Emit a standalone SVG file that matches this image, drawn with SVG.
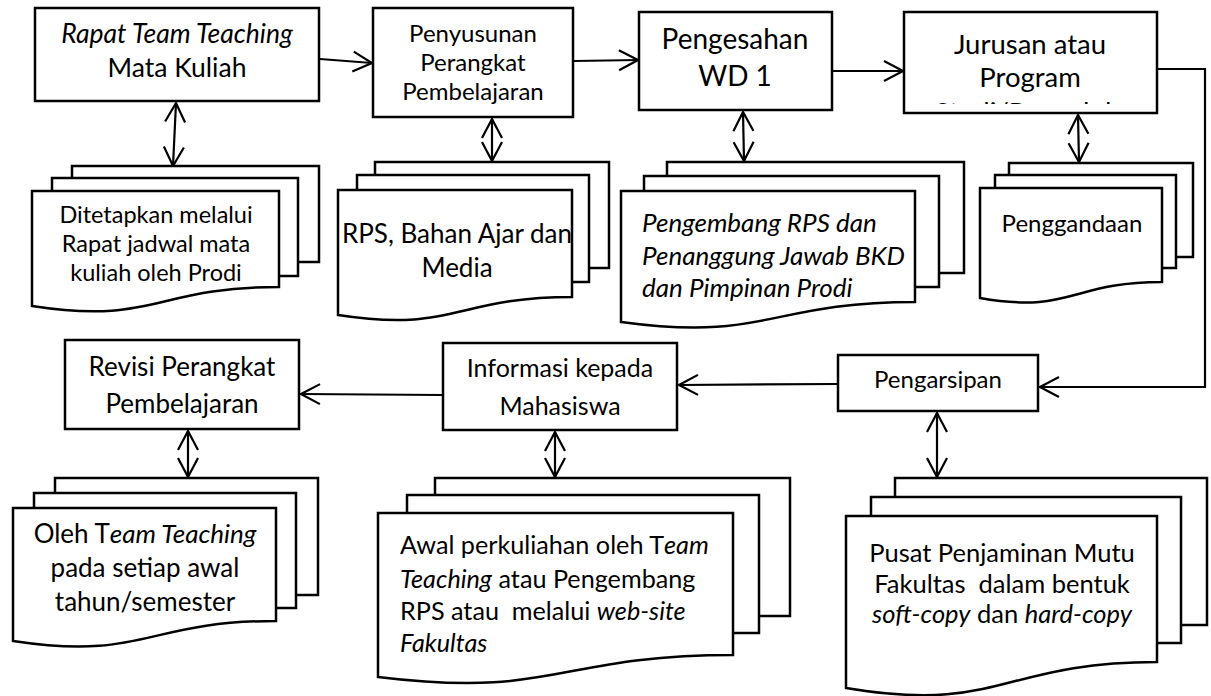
<svg xmlns="http://www.w3.org/2000/svg" width="1211" height="696" viewBox="0 0 1211 696">
  <style>
    .box { fill: #fff; stroke: #000; stroke-width: 2.5; }
    .sheet { fill: #fff; stroke: #000; stroke-width: 2.5; stroke-linejoin: miter; }
    .ln { fill: none; stroke: #000; stroke-width: 2.2; }
    text { font-family: Lato, "Liberation Sans", sans-serif; fill: #000; }
    .c { text-anchor: middle; }
    .i { font-style: italic; }
  </style>
  <defs>
    <marker id="ah" viewBox="-22 -12 24 24" refX="0" refY="0" markerWidth="24" markerHeight="24" markerUnits="userSpaceOnUse" orient="auto-start-reverse">
      <path d="M-19,-10 L0,0 L-19,10" fill="none" stroke="#000" stroke-width="2.2"/>
    </marker>
    <clipPath id="clip-jurusan">
      <rect x="906" y="14" width="249" height="90"/>
    </clipPath>
  </defs>

  <!-- connectors -->
  <g id="connectors">
    <path class="ln" d="M320,59 L372,63" marker-end="url(#ah)"/>
    <path class="ln" d="M574,61 L638,60" marker-end="url(#ah)"/>
    <path class="ln" d="M833,71 L903,71" marker-end="url(#ah)"/>
    <path class="ln" d="M1158,69 H1205 V387 H1040" marker-end="url(#ah)"/>
    <path class="ln" d="M837,384 L679,385" marker-end="url(#ah)"/>
    <path class="ln" d="M442,395 L301,394" marker-end="url(#ah)"/>
    <path class="ln" d="M176,103 L173,166" marker-start="url(#ah)" marker-end="url(#ah)"/>
    <path class="ln" d="M492,119 L492,161" marker-start="url(#ah)" marker-end="url(#ah)"/>
    <path class="ln" d="M743,112 L744,161" marker-start="url(#ah)" marker-end="url(#ah)"/>
    <path class="ln" d="M1078,115 L1079,162" marker-start="url(#ah)" marker-end="url(#ah)"/>
    <path class="ln" d="M188,431 L188,477" marker-start="url(#ah)" marker-end="url(#ah)"/>
    <path class="ln" d="M555,432 L555,477" marker-start="url(#ah)" marker-end="url(#ah)"/>
    <path class="ln" d="M937,413 L937,477" marker-start="url(#ah)" marker-end="url(#ah)"/>
  </g>

  <!-- process boxes -->
  <g id="rapat">
    <rect class="box" x="35" y="8" width="284" height="93"/>
    <text class="c i" x="177" y="43" font-size="26.5">Rapat Team Teaching</text>
    <text class="c" x="177" y="77" font-size="26.5">Mata Kuliah</text>
  </g>
  <g id="penyusunan">
    <rect class="box" x="373" y="8" width="200" height="109"/>
    <text class="c" x="473" y="42" font-size="24">Penyusunan</text>
    <text class="c" x="473" y="71" font-size="24">Perangkat</text>
    <text class="c" x="473" y="100" font-size="24">Pembelajaran</text>
  </g>
  <g id="pengesahan">
    <rect class="box" x="639" y="12" width="193" height="98"/>
    <text class="c" x="735" y="49" font-size="28">Pengesahan</text>
    <text class="c" x="735" y="86" font-size="28">WD 1</text>
  </g>
  <g id="jurusan">
    <rect class="box" x="904" y="12" width="253" height="101"/>
    <text class="c" x="1030" y="54" font-size="27.5">Jurusan atau</text>
    <text class="c" x="1030" y="87" font-size="27.5">Program</text>
    <text class="c" x="1030" y="122" font-size="27.5" clip-path="url(#clip-jurusan)">Studi/Pengelola</text>
  </g>
  <g id="pengarsipan">
    <rect class="box" x="838" y="355" width="200" height="56"/>
    <text class="c" x="938" y="388" font-size="24">Pengarsipan</text>
  </g>
  <g id="informasi">
    <rect class="box" x="443" y="343" width="234" height="87"/>
    <text class="c" x="560" y="377" font-size="25">Informasi kepada</text>
    <text class="c" x="560" y="415" font-size="25">Mahasiswa</text>
  </g>
  <g id="revisi">
    <rect class="box" x="65" y="340" width="234" height="89"/>
    <text class="c" x="182" y="376" font-size="26">Revisi Perangkat</text>
    <text class="c" x="182" y="413" font-size="26">Pembelajaran</text>
  </g>

  <!-- multi-document nodes -->
  <g id="doc-jadwal">
    <rect class="sheet" x="72" y="166" width="247" height="96"/>
    <rect class="sheet" x="52" y="178" width="246" height="98"/>
    <path class="sheet" d="M32,191 H279 V287 C155,287 155,325 32,306 Z"/>
    <text class="c" x="156" y="223" font-size="23.5">Ditetapkan melalui</text>
    <text class="c" x="156" y="252" font-size="23.5">Rapat jadwal mata</text>
    <text class="c" x="156" y="281" font-size="23.5">kuliah oleh Prodi</text>
  </g>
  <g id="doc-rps">
    <rect class="sheet" x="375" y="162" width="234" height="106"/>
    <rect class="sheet" x="357" y="175" width="232" height="107"/>
    <path class="sheet" d="M338,190 H572 V297 C455,297 455,333 338,315 Z"/>
    <text class="c" x="457" y="243" font-size="26">RPS, Bahan Ajar dan</text>
    <text class="c" x="457" y="277" font-size="26">Media</text>
  </g>
  <g id="doc-pengembang">
    <rect class="sheet" x="667" y="162" width="297" height="111"/>
    <rect class="sheet" x="644" y="176" width="295" height="111"/>
    <path class="sheet" d="M621,191 H915 V302 C768,302 768,342 621,322 Z"/>
    <text class="i" x="642" y="232" font-size="26">Pengembang RPS dan</text>
    <text class="i" x="642" y="265" font-size="26">Penanggung Jawab BKD</text>
    <text class="i" x="642" y="297" font-size="26">dan Pimpinan Prodi</text>
  </g>
  <g id="doc-penggandaan">
    <rect class="sheet" x="1009" y="163" width="184" height="94"/>
    <rect class="sheet" x="995" y="175" width="181" height="93"/>
    <path class="sheet" d="M980,188 H1162 V282 C1071,282 1071,314 980,298 Z"/>
    <text class="c" x="1072" y="232" font-size="24">Penggandaan</text>
  </g>
  <g id="doc-team">
    <rect class="sheet" x="55" y="478" width="263" height="117"/>
    <rect class="sheet" x="34" y="493" width="262" height="115"/>
    <path class="sheet" d="M13,508 H276 V621 C145,621 145,661 13,641 Z"/>
    <text class="c" x="145" y="543" font-size="26">Oleh T<tspan class="i">eam Teaching</tspan></text>
    <text class="c" x="145" y="577" font-size="26">pada setiap awal</text>
    <text class="c" x="145" y="611" font-size="26">tahun/semester</text>
  </g>
  <g id="doc-awal">
    <rect class="sheet" x="435" y="478" width="355" height="138"/>
    <rect class="sheet" x="407" y="495" width="352" height="138"/>
    <path class="sheet" d="M378,513 H733 V655 C556,655 556,699 378,677 Z"/>
    <text x="400" y="554" font-size="25.2">Awal perkuliahan oleh T<tspan class="i">eam</tspan></text>
    <text x="400" y="588" font-size="25.2"><tspan class="i">Teaching</tspan> atau Pengembang</text>
    <text x="400" y="620" font-size="25.2" xml:space="preserve">RPS atau  melalui <tspan class="i">web-site</tspan></text>
    <text class="i" x="400" y="652" font-size="25.2">Fakultas</text>
  </g>
  <g id="doc-pusat">
    <rect class="sheet" x="895" y="478" width="312" height="147"/>
    <rect class="sheet" x="871" y="497" width="310" height="146"/>
    <path class="sheet" d="M846,516 H1157 V662 C1001,662 1001,714 846,688 Z"/>
    <text class="c" x="1002" y="562" font-size="25.5">Pusat Penjaminan Mutu</text>
    <text class="c" x="1002" y="593" font-size="25.5" xml:space="preserve">Fakultas  dalam bentuk</text>
    <text class="c" x="1002" y="623" font-size="25.5"><tspan class="i">soft-copy</tspan> dan <tspan class="i">hard-copy</tspan></text>
  </g>
</svg>
